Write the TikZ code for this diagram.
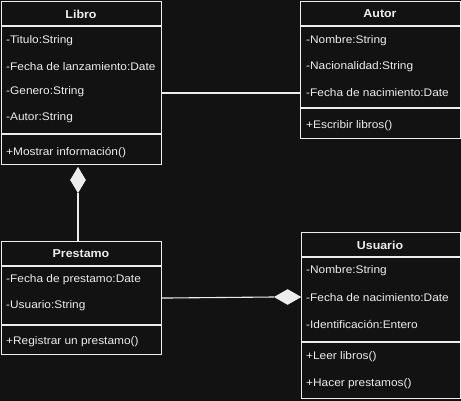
\documentclass[tikz,border=0pt]{standalone}
\usepackage{fontspec}
\setmainfont[FakeStretch=1.08]{Liberation Sans}
\usetikzlibrary{shapes.geometric,calc}
\definecolor{bg}{HTML}{121212}
\definecolor{ink}{HTML}{EDEDED}
\begin{document}
\begin{tikzpicture}[x=1pt,y=-1pt,
  classbox/.style={draw=ink,line width=1.1pt,fill=bg,rectangle,inner sep=0pt,anchor=north west},
  sep/.style={draw=ink,line width=1.1pt},
  ctitle/.style={text=ink,font=\fontsize{11.5}{13}\selectfont\bfseries,inner sep=0pt},
  attr/.style={text=ink,font=\fontsize{11}{13}\selectfont,inner sep=0pt,anchor=west},
  conn/.style={draw=ink,line width=1.1pt},
  diam/.style={diamond,draw=ink,fill=ink,line width=0.8pt,inner sep=0pt,aspect=1}]
\fill[bg] (0,0) rectangle (461,401);
\useasboundingbox (0,0) rectangle (461,401);

% Libro
\node[classbox,minimum width=160pt,minimum height=163pt] (libro) at (1,1) {};
\draw[sep] (1,26) -- (161,26);
\draw[sep] (1,134) -- (161,134);
\node[ctitle] (libroT) at (81,14) {Libro};
\node[attr] (libro1) at (6,41) {-Titulo:String};
\node[attr] (libro2) at (6,67) {-Fecha de lanzamiento:Date};
\node[attr] (libro3) at (6,92) {-Genero:String};
\node[attr] (libro4) at (6,118) {-Autor:String};
\node[attr] (libroM) at (6,153) {+Mostrar información()};

% Autor
\node[classbox,minimum width=160pt,minimum height=137pt] (autor) at (300,1) {};
\draw[sep] (300,26) -- (460,26);
\draw[sep] (300,108) -- (460,108);
\node[ctitle] (autorT) at (380,14) {Autor};
\node[attr] (autor1) at (306,41) {-Nombre:String};
\node[attr] (autor2) at (306,67) {-Nacionalidad:String};
\node[attr] (autor3) at (306,93) {-Fecha de nacimiento:Date};
\node[attr] (autorM) at (306,126) {+Escribir libros()};

% Prestamo
\node[classbox,minimum width=160pt,minimum height=113pt] (prestamo) at (1,241) {};
\draw[sep] (1,266) -- (161,266);
\draw[sep] (1,325) -- (161,325);
\node[ctitle] (prestamoT) at (81,254) {Prestamo};
\node[attr] (prestamo1) at (6,280) {-Fecha de prestamo:Date};
\node[attr] (prestamo2) at (6,306) {-Usuario:String};
\node[attr] (prestamoM) at (6,342) {+Registrar un prestamo()};

% Usuario
\node[classbox,minimum width=159pt,minimum height=166pt] (usuario) at (301,232) {};
\draw[sep] (301,257) -- (460,257);
\draw[sep] (301,342) -- (460,342);
\node[ctitle] (usuarioT) at (380,245) {Usuario};
\node[attr] (usuario1) at (306,271) {-Nombre:String};
\node[attr] (usuario2) at (306,298) {-Fecha de nacimiento:Date};
\node[attr] (usuario3) at (306,325) {-Identificación:Entero};
\node[attr] (usuarioM1) at (306,357) {+Leer libros()};
\node[attr] (usuarioM2) at (306,384) {+Hacer prestamos()};

% diamonds
\node[diam,minimum width=15pt,minimum height=25pt] (d1) at (78,180) {};
\node[diam,minimum width=26pt,minimum height=15pt,anchor=east] (d2) at (usuario.west |- 0,297) {};

% connectors
\draw[conn] (libro.east |- autor3) -- (autor.west |- autor3);
\draw[conn] (d1.south) -- (prestamo.north -| d1.south);
\draw[conn] (prestamo.east) -- (d2.west);
\end{tikzpicture}
\end{document}
